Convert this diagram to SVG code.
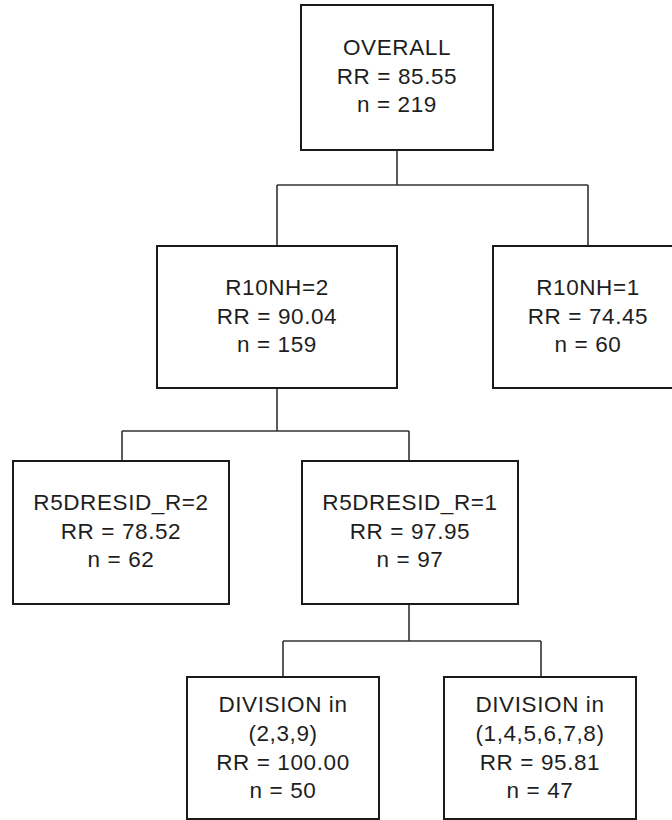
<svg xmlns="http://www.w3.org/2000/svg" width="672" height="820" viewBox="0 0 672 820">
  <style>
    .box { fill: #ffffff; stroke: #1a1a1a; stroke-width: 2; }
    .lbl { font-family: "Liberation Sans", Arial, sans-serif; font-size: 22.5px; letter-spacing: 0.6px; fill: #1e1e1e; text-anchor: middle; }
    .conn { fill: none; stroke: #333333; stroke-width: 1.6; }
  </style>
  <rect width="672" height="820" fill="#ffffff"/>

  <!-- tree connectors -->
  <g id="connectors">
    <path class="conn" d="M397 150 V185 M277 185 H588 M277 185 V246 M588 185 V246"/>
    <path class="conn" d="M277 388 V431 M122 431 H409 M122 431 V461 M409 431 V461"/>
    <path class="conn" d="M409 604 V641 M283 641 H541 M283 641 V677 M541 641 V677"/>
  </g>

  <g id="node-overall">
    <rect class="box" x="301" y="5" width="192" height="145"/>
    <text class="lbl" x="397" y="55">OVERALL</text>
    <text class="lbl" x="397" y="83.5">RR = 85.55</text>
    <text class="lbl" x="397" y="112">n = 219</text>
  </g>

  <g id="node-r10nh-2">
    <rect class="box" x="157" y="246" width="240" height="142"/>
    <text class="lbl" x="277" y="295">R10NH=2</text>
    <text class="lbl" x="277" y="323.5">RR = 90.04</text>
    <text class="lbl" x="277" y="352">n = 159</text>
  </g>

  <g id="node-r10nh-1">
    <rect class="box" x="493" y="246" width="190" height="142"/>
    <text class="lbl" x="588" y="295">R10NH=1</text>
    <text class="lbl" x="588" y="323.5">RR = 74.45</text>
    <text class="lbl" x="588" y="352">n = 60</text>
  </g>

  <g id="node-r5dresid-2">
    <rect class="box" x="13" y="461" width="216" height="143"/>
    <text class="lbl" x="121" y="510">R5DRESID_R=2</text>
    <text class="lbl" x="121" y="538.5">RR = 78.52</text>
    <text class="lbl" x="121" y="567">n = 62</text>
  </g>

  <g id="node-r5dresid-1">
    <rect class="box" x="302" y="461" width="216" height="143"/>
    <text class="lbl" x="410" y="510">R5DRESID_R=1</text>
    <text class="lbl" x="410" y="538.5">RR = 97.95</text>
    <text class="lbl" x="410" y="567">n = 97</text>
  </g>

  <g id="node-division-a">
    <rect class="box" x="187" y="677" width="192" height="142"/>
    <text class="lbl" x="283" y="712">DIVISION in</text>
    <text class="lbl" x="283" y="741">(2,3,9)</text>
    <text class="lbl" x="283" y="770">RR = 100.00</text>
    <text class="lbl" x="283" y="798">n = 50</text>
  </g>

  <g id="node-division-b">
    <rect class="box" x="444" y="677" width="192" height="142"/>
    <text class="lbl" x="540" y="712">DIVISION in</text>
    <text class="lbl" x="540" y="741">(1,4,5,6,7,8)</text>
    <text class="lbl" x="540" y="770">RR = 95.81</text>
    <text class="lbl" x="540" y="798">n = 47</text>
  </g>
</svg>
